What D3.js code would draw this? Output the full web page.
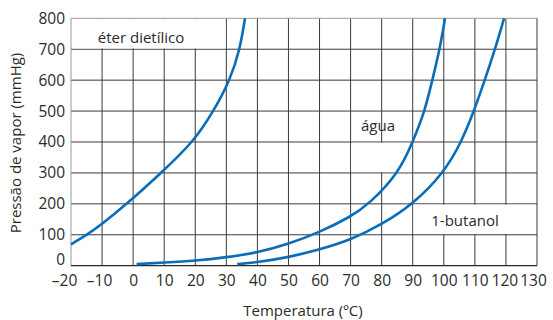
<!DOCTYPE html>
<html>
<head>
<meta charset="utf-8">
<script src="https://cdn.jsdelivr.net/npm/d3@7"></script>
<style>
  body { margin: 0; background: #fff; }
  text { font-family: "Open Sans", Lato, sans-serif; fill: #2b2b2b; }
</style>
</head>
<body>
<svg id="chart" width="553" height="320"></svg>
<script>
// DATA
const xTicks = [-20, -10, 0, 10, 20, 30, 40, 50, 60, 70, 80, 90, 100, 110, 120, 130];
const yTicks = [0, 100, 200, 300, 400, 500, 600, 700, 800];

const eterTemp = [-20, -14.9, -10, -2, 9, 19.4, 25.9, 31.2, 34.4, 36];
const eterPres = [69, 100, 135, 200, 300, 400, 500, 600, 700, 800];

const aguaTemp = [1.1, 10, 20, 30, 40, 50, 60, 70, 76, 85.5, 90, 93.9, 96.3, 98.7, 100.4];
const aguaPres = [5, 10, 16, 27, 42, 70, 108, 158, 200, 300, 400, 500, 600, 700, 800];

const butTemp = [33.5, 40, 50, 60, 70, 80, 90.2, 100, 105.7, 109.7, 113.2, 116.5, 119.4];
const butPres = [5, 11, 27, 52, 83, 133, 200, 300, 400, 500, 600, 700, 800];

const series = [
  {name: "eter", t: eterTemp, p: eterPres},
  {name: "agua", t: aguaTemp, p: aguaPres},
  {name: "butanol", t: butTemp, p: butPres}
];

// label boxes: [t0, t1, p0, p1]
const labels = [
  {text: "éter dietílico", box: [-20, 30, 700, 800], tx: 141, ty: 43},
  {text: "água", box: [70, 90, 300, 400], tx: 378, ty: 131},
  {text: "1-butanol", box: [90, 130, 100, 200], tx: 465, ty: 226}
];

const x = d3.scaleLinear().domain([-20, 130]).range([71, 537]);
const y = d3.scaleLinear().domain([0, 800]).range([265.7, 18.3]);

const svg = d3.select('#chart');

// GRID
const grid = svg.append('g').attr('id', 'grid');
grid.selectAll('line.v')
    .data(xTicks.filter(d => d > -20 && d < 130))
      .enter()
    .append('line')
      .attr('x1', d => x(d)).attr('x2', d => x(d))
      .attr('y1', y(0)).attr('y2', y(800))
      .attr('stroke', '#3a3a3a').attr('stroke-width', 1);
grid.selectAll('line.h')
    .data(yTicks.filter(d => d > 0 && d < 800))
      .enter()
    .append('line')
      .attr('x1', x(-20)).attr('x2', x(130))
      .attr('y1', d => y(d)).attr('y2', d => y(d))
      .attr('stroke', '#3a3a3a').attr('stroke-width', 1);

// label boxes hide the grid behind the text
grid.selectAll('rect.box')
    .data(labels)
      .enter()
    .append('rect')
      .attr('x', d => x(d.box[0]) + 0.8)
      .attr('y', d => y(d.box[3]) + 0.8)
      .attr('width', d => x(d.box[1]) - x(d.box[0]) - 1.6)
      .attr('height', d => y(d.box[2]) - y(d.box[3]) - 1.6)
      .attr('fill', '#fff');

// borders
grid.append('line').attr('x1', x(-20)).attr('x2', x(130)).attr('y1', y(800)).attr('y2', y(800))
    .attr('stroke', '#9a9a9a');
grid.append('line').attr('x1', x(-20)).attr('x2', x(-20)).attr('y1', y(0)).attr('y2', y(800))
    .attr('stroke', '#9a9a9a');
grid.append('line').attr('x1', x(130)).attr('x2', x(130)).attr('y1', y(0)).attr('y2', y(800))
    .attr('stroke', '#3a3a3a');
grid.append('line').attr('x1', x(-20)).attr('x2', x(130)).attr('y1', y(0)).attr('y2', y(0))
    .attr('stroke', '#2a2a2a').attr('stroke-width', 1.2);

// CURVES (basis spline keeps them smooth through the read-off points)
const line = d3.line()
    .x(d => x(d[0]))
    .y(d => y(d[1]))
    .curve(d3.curveBasis);

svg.append('g').attr('id', 'curves')
    .selectAll('path')
    .data(series)
      .enter()
    .append('path')
      .attr('d', s => line(s.t.map((t, i) => [t, s.p[i]])))
      .attr('fill', 'none')
      .attr('stroke', '#0a6dba')
      .attr('stroke-width', 2.6)
      .attr('stroke-linecap', 'butt');

// LABELS
svg.append('g').selectAll('text')
    .data(labels)
      .enter()
    .append('text')
      .attr('x', d => d.tx)
      .attr('y', d => d.ty)
      .attr('text-anchor', 'middle')
      .style('font-size', '15px')
      .text(d => d.text);

// AXES
const fmt = d => d < 0 ? '\u2013' + Math.abs(d) : String(d);
const xAxis = svg.append('g')
    .attr('transform', `translate(0, ${y(0)})`)
    .call(d3.axisBottom(x).tickValues(xTicks).tickSize(0).tickPadding(9).tickFormat(fmt));
xAxis.select('.domain').remove();
xAxis.selectAll('text').style('font-size', '15.5px').attr('fill', '#2b2b2b');
// nudge the crowded end labels like the original
const nudge = {'-20': -7, '-10': -3, '120': -1.5, '130': -4};
xAxis.selectAll('.tick text').attr('dx', d => nudge[d] || 0);

const yAxis = svg.append('g')
    .attr('transform', `translate(${x(-20)}, 0)`)
    .call(d3.axisLeft(y).tickValues(yTicks).tickSize(0).tickPadding(6));
yAxis.select('.domain').remove();
yAxis.selectAll('text').style('font-size', '15.5px').attr('fill', '#2b2b2b');
// the 0 label sits on the zero line
yAxis.selectAll('.tick').filter(d => d === 0).select('text').attr('dy', '-0.05em');

svg.append('text')
    .attr('x', 303).attr('y', 316)
    .attr('text-anchor', 'middle')
    .style('font-size', '15px')
    .text('Temperatura (ºC)');

svg.append('text')
    .attr('transform', 'translate(21, 143) rotate(-90)')
    .attr('text-anchor', 'middle')
    .style('font-size', '15px')
    .text('Pressão de vapor (mmHg)');
</script>
</body>
</html>
